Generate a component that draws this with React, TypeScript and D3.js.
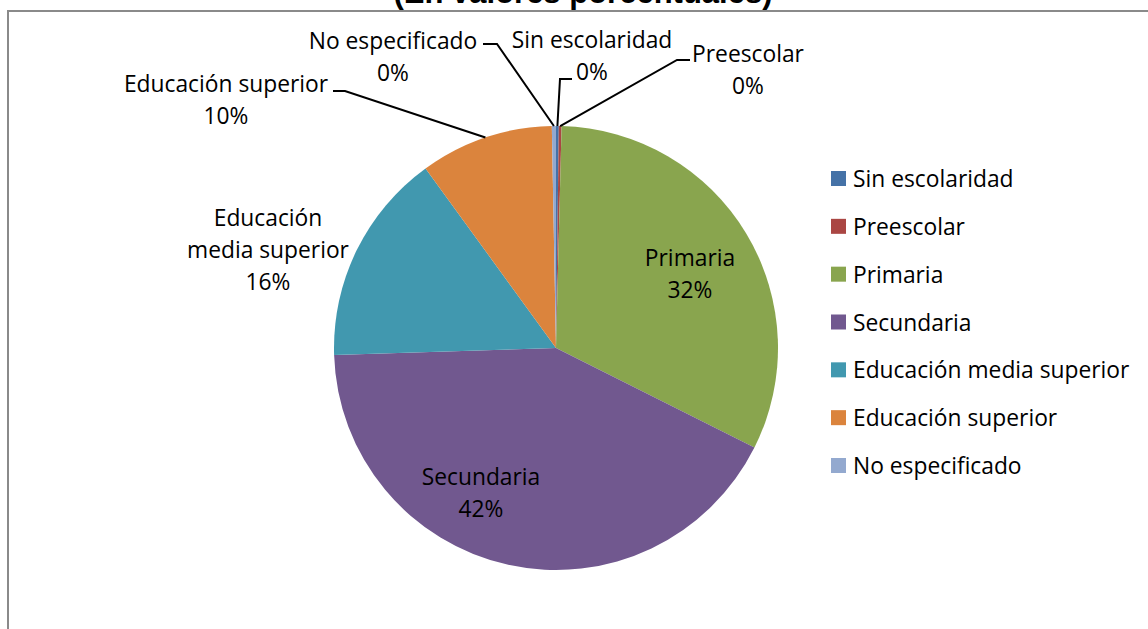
import React from "react";
import * as d3 from "d3";

const categories = [
  "Sin escolaridad",
  "Preescolar",
  "Primaria",
  "Secundaria",
  "Educación media superior",
  "Educación superior",
  "No especificado",
];
const values = [0.2, 0.2, 32.0, 42.1, 15.5, 9.7, 0.3];
const percentLabels = ["0%", "0%", "32%", "42%", "16%", "10%", "0%"];
const colors = ["#4572A7", "#AA4643", "#89A54E", "#71588F", "#4198AF", "#DB843D", "#93A9CF"];
const title = "(En valores porcentuales)";

const W = 1148;
const H = 629;
const CX = 556;
const CY = 348;
const R = 222;
const FONT = "'Open Sans', sans-serif";
const FS = 22.8;
const LH = 32;

// label layout: lines of category name, anchor point of text block, leader elbow
type Lay = { lines: string[]; x: number; y: number; inside?: boolean; elbow?: [number, number][] };
const layout: Lay[] = [
  { lines: ["Sin escolaridad"], x: 592, y: 48, elbow: [[572, 79], [560, 79]] },
  { lines: ["Preescolar"], x: 748, y: 62, elbow: [[690, 60], [677, 60]] },
  { lines: ["Primaria"], x: 690, y: 266, inside: true },
  { lines: ["Secundaria"], x: 481, y: 485, inside: true },
  { lines: ["Educación", "media superior"], x: 268, y: 226 },
  { lines: ["Educación superior"], x: 226, y: 92, elbow: [[333, 91], [345, 91]] },
  { lines: ["No especificado"], x: 393, y: 49, elbow: [[483, 44], [497, 44]] },
];

export default function App() {
  const pie = d3
    .pie<number>()
    .sort(null)
    .value((d) => d)
    .startAngle(0)
    .endAngle(2 * Math.PI);
  const arcs = pie(values);
  const arc = d3.arc<d3.PieArcDatum<number>>().innerRadius(0).outerRadius(R);

  const legendY = d3.scalePoint<string>().domain(categories).range([179, 466]);

  return (
    <svg
      width={W}
      height={H}
      style={{ position: "absolute", left: 0, top: 0, background: "#fff" }}
      fontFamily={FONT}
    >
      <rect x={8} y={11} width={W + 20} height={H + 20} fill="#fff" stroke="#8a8a8a" strokeWidth={2} />
      <text
        x={583}
        y={3}
        textAnchor="middle"
        fontFamily="'Liberation Sans', Arial, sans-serif"
        fontWeight="bold"
        fontSize={31}
        fill="#000"
      >
        {title}
      </text>
      <g transform={`translate(${CX},${CY})`}>
        {arcs.map((a, i) => (
          <path key={i} d={arc(a) || ""} fill={colors[i]} />
        ))}
      </g>
      {arcs.map((a, i) => {
        const lay = layout[i];
        const mid = (a.startAngle + a.endAngle) / 2;
        const px = CX + R * Math.sin(mid);
        const py = CY - R * Math.cos(mid);
        const lines = [...lay.lines, percentLabels[i]];
        const leader =
          lay.elbow && !lay.inside
            ? [...lay.elbow, [px, py] as [number, number]]
            : null;
        return (
          <g key={i}>
            {leader && (
              <path
                d={d3.line()(leader) || ""}
                fill="none"
                stroke="#000"
                strokeWidth={2}
              />
            )}
            {lines.map((t, j) => (
              <text
                key={j}
                x={lay.x}
                y={lay.y + j * LH}
                textAnchor="middle"
                fontSize={FS}
                fill="#000"
              >
                {t}
              </text>
            ))}
          </g>
        );
      })}
      {categories.map((c, i) => {
        const y = legendY(c) as number;
        return (
          <g key={c}>
            <rect x={831} y={y - 8} width={15} height={15} fill={colors[i]} />
            <text x={853} y={y + 8} fontSize={FS} fill="#000">
              {c}
            </text>
          </g>
        );
      })}
    </svg>
  );
}
